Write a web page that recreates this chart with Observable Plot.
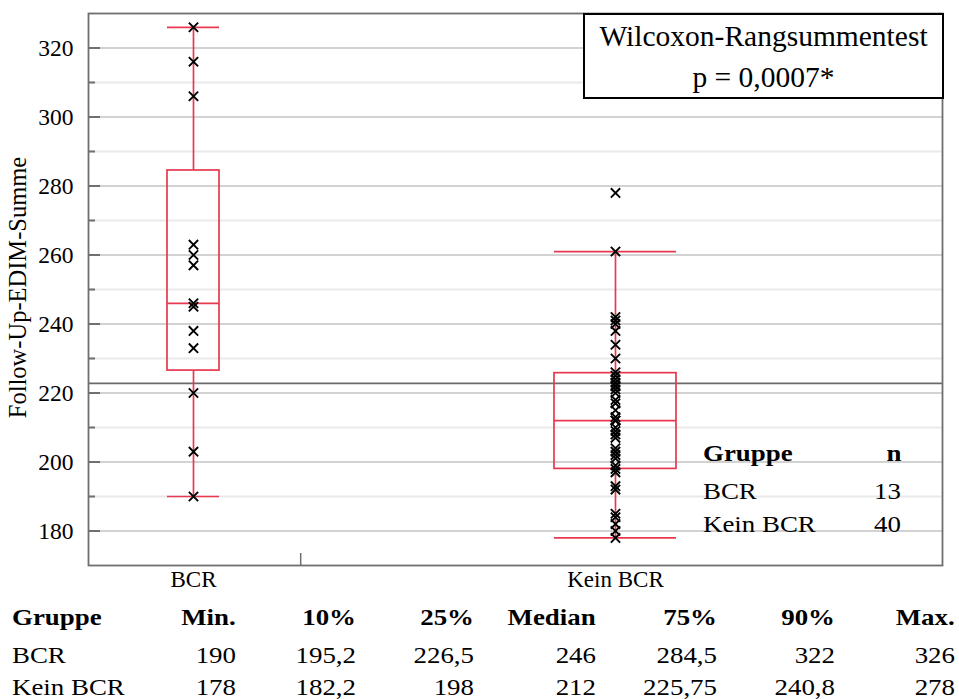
<!DOCTYPE html>
<html>
<head>
<meta charset="utf-8">
<script src="https://cdn.jsdelivr.net/npm/d3@7"></script>
<script src="https://cdn.jsdelivr.net/npm/@observablehq/plot@0.6"></script>
<style>
  html, body { margin: 0; padding: 0; background: #fff; }
  body { position: relative; width: 959px; height: 699px; overflow: hidden; font-family: "Liberation Serif", "Times New Roman", serif; color: #000; }
  #chart { position: absolute; left: 0; top: 0; }
  .abs { position: absolute; white-space: nowrap; line-height: 22px; font-size: 24px; }
  .abs span { display: inline-block; transform: scaleX(1.12); }
  .l span { transform-origin: left center; }
  .r span { transform-origin: right center; }
  .b { font-weight: bold; }
  #testbox { position: absolute; left: 583px; top: 13px; width: 357px; height: 82px; border: 2px solid #000; background: #fff; text-align: center; font-size: 29.5px; }
</style>
</head>
<body>
<div id="chart"></div>
<div id="testbox"></div>
<div id="legend"></div>
<div id="table"></div>
<script>
// ---------- data ----------
const groups = ["BCR", "Kein BCR"];
const nCounts = [13, 40];
const bcrValues = [326, 316, 306, 263, 260, 257, 246, 245, 238, 233, 220, 203, 190];
const keinValues = [178, 180, 182, 184, 185, 192, 193, 197, 198, 199, 201, 202, 203, 204, 207, 208, 209, 210, 212, 212,
                    213, 215, 217, 218, 220, 221, 222, 222, 223, 224, 225, 226, 230, 234, 238, 240, 241, 242, 261, 278];
const statMin = [190, 178];
const statP10 = [195.2, 182.2];
const statQ1 = [226.5, 198];
const statMedian = [246, 212];
const statQ3 = [284.5, 225.75];
const statP90 = [322, 240.8];
const statMax = [326, 278];
const whiskerLow = [190, 178];
const whiskerHigh = [326, 261];
const yTicksMajor = [180, 200, 220, 240, 260, 280, 300, 320];
const yTicksMinor = [190, 210, 230, 250, 270, 290, 310];
const referenceLine = [222.8];
const xTickAt = [1.254];
const yLabel = "Follow-Up-EDIM-Summe";
const testTitle = "Wilcoxon-Rangsummentest";
const testP = "p = 0,0007*";
const tableHeader = ["Gruppe", "Min.", "10%", "25%", "Median", "75%", "90%", "Max."];
const legendHeader = ["Gruppe", "n"];

// ---------- layout constants ----------
const W = 959, H = 600;
const mL = 88, mR = 17, mT = 13, mB = 35;
const xDomain = [0.7512, 2.7749];
const yDomain = [170, 330];
const pxPerX = (W - mL - mR) / (xDomain[1] - xDomain[0]);
const pxPerY = (H - mT - mB) / (yDomain[1] - yDomain[0]);
const boxHalfPx = [26, 61];
const RED = "#e8384f";
const GRIDMAJ = "#d2d2d2", GRIDMIN = "#e9e9e9", AX = "#6f6f6f";

const values = [bcrValues, keinValues];
const points = groups.flatMap((g, i) => values[i].map(v => ({pos: i + 1, v})));
const boxes = groups.map((g, i) => ({
  pos: i + 1,
  xa: i + 1 - boxHalfPx[i] / pxPerX,
  xb: i + 1 + boxHalfPx[i] / pxPerX,
  q1: statQ1[i], q3: statQ3[i], med: statMedian[i],
  lo: whiskerLow[i], hi: whiskerHigh[i]
}));

const plot = Plot.plot({
  width: W, height: H,
  marginLeft: mL, marginRight: mR, marginTop: mT, marginBottom: mB,
  style: {fontFamily: "'Liberation Serif', 'Times New Roman', serif", background: "transparent", color: "#000"},
  x: {domain: xDomain, axis: null},
  y: {domain: yDomain, axis: null},
  marks: [
    Plot.ruleY(yTicksMinor, {stroke: GRIDMIN, strokeWidth: 2}),
    Plot.ruleY(yTicksMajor, {stroke: GRIDMAJ, strokeWidth: 2}),
    Plot.ruleY(yTicksMajor, {x1: xDomain[0], x2: xDomain[0] + 12 / pxPerX, stroke: AX, strokeWidth: 2}),
    Plot.ruleY(yTicksMinor, {x1: xDomain[0], x2: xDomain[0] + 7 / pxPerX, stroke: AX, strokeWidth: 2}),
    Plot.ruleX(xTickAt, {y1: yDomain[0], y2: yDomain[0] + 12 / pxPerY, stroke: AX, strokeWidth: 1.5}),
    Plot.ruleY(referenceLine, {stroke: "#6a6a6a", strokeWidth: 1.6}),
    Plot.axisY({ticks: yTicksMajor, tickSize: 0, tickPadding: 15, fontSize: 23.5, tickFormat: d => String(d)}),
    Plot.axisX({ticks: [1, 2], tickSize: 0, tickPadding: 5, fontSize: 23, tickFormat: d => groups[d - 1]}),
    Plot.text([yLabel], {frameAnchor: "left", textAnchor: "middle", rotate: -90, dx: -70, dy: -2, fontSize: 24.5}),
    // whiskers
    Plot.ruleX(boxes, {x: "pos", y1: "q3", y2: "hi", stroke: RED, strokeWidth: 1.7}),
    Plot.ruleX(boxes, {x: "pos", y1: "lo", y2: "q1", stroke: RED, strokeWidth: 1.7}),
    Plot.ruleY(boxes, {y: "hi", x1: "xa", x2: "xb", stroke: RED, strokeWidth: 1.7}),
    Plot.ruleY(boxes, {y: "lo", x1: "xa", x2: "xb", stroke: RED, strokeWidth: 1.7}),
    // boxes
    Plot.rect(boxes, {x1: "xa", x2: "xb", y1: "q1", y2: "q3", fill: "none", stroke: RED, strokeWidth: 1.7}),
    Plot.ruleY(boxes, {y: "med", x1: "xa", x2: "xb", stroke: RED, strokeWidth: 1.7}),
    // points
    Plot.dot(points, {x: "pos", y: "v", symbol: "times", r: 4.3, stroke: "#000", strokeWidth: 1.9}),
    Plot.frame({stroke: AX, strokeWidth: 1.8})
  ]
});
document.getElementById("chart").appendChild(plot);

// ---------- test box ----------
const tb = document.getElementById("testbox");
tb.innerHTML = `<div style="position:absolute;left:0;right:0;top:5px">${testTitle}</div><div style="position:absolute;left:0;right:0;top:46px">${testP}</div>`;

// ---------- in-plot legend (Gruppe / n) ----------
const fmt = v => String(v).replace(".", ",");
const legend = document.getElementById("legend");
const lgRows = [legendHeader, ...groups.map((g, i) => [g, String(nCounts[i])])];
const lgTops = [442, 480, 513];
lgRows.forEach((row, r) => {
  const bold = r === 0 ? " b" : "";
  legend.insertAdjacentHTML("beforeend",
    `<div class="abs l${bold}" style="left:703px;top:${lgTops[r]}px"><span>${row[0]}</span></div>` +
    `<div class="abs r${bold}" style="right:${959 - 901}px;top:${lgTops[r]}px"><span>${row[1]}</span></div>`);
});

// ---------- table below ----------
const table = document.getElementById("table");
const colRight = [null, 236, 356, 474, 596, 717, 835, 955];
const rows = [tableHeader, ...groups.map((g, i) => [g, statMin[i], statP10[i], statQ1[i], statMedian[i], statQ3[i], statP90[i], statMax[i]].map((v, j) => j === 0 ? v : fmt(v)))];
const rowTops = [606, 644, 676];
rows.forEach((row, r) => {
  const bold = r === 0 ? " b" : "";
  row.forEach((cell, j) => {
    if (j === 0) {
      table.insertAdjacentHTML("beforeend", `<div class="abs l${bold}" style="left:12px;top:${rowTops[r]}px"><span>${cell}</span></div>`);
    } else {
      table.insertAdjacentHTML("beforeend", `<div class="abs r${bold}" style="right:${959 - colRight[j]}px;top:${rowTops[r]}px"><span>${cell}</span></div>`);
    }
  });
});
</script>
</body>
</html>
